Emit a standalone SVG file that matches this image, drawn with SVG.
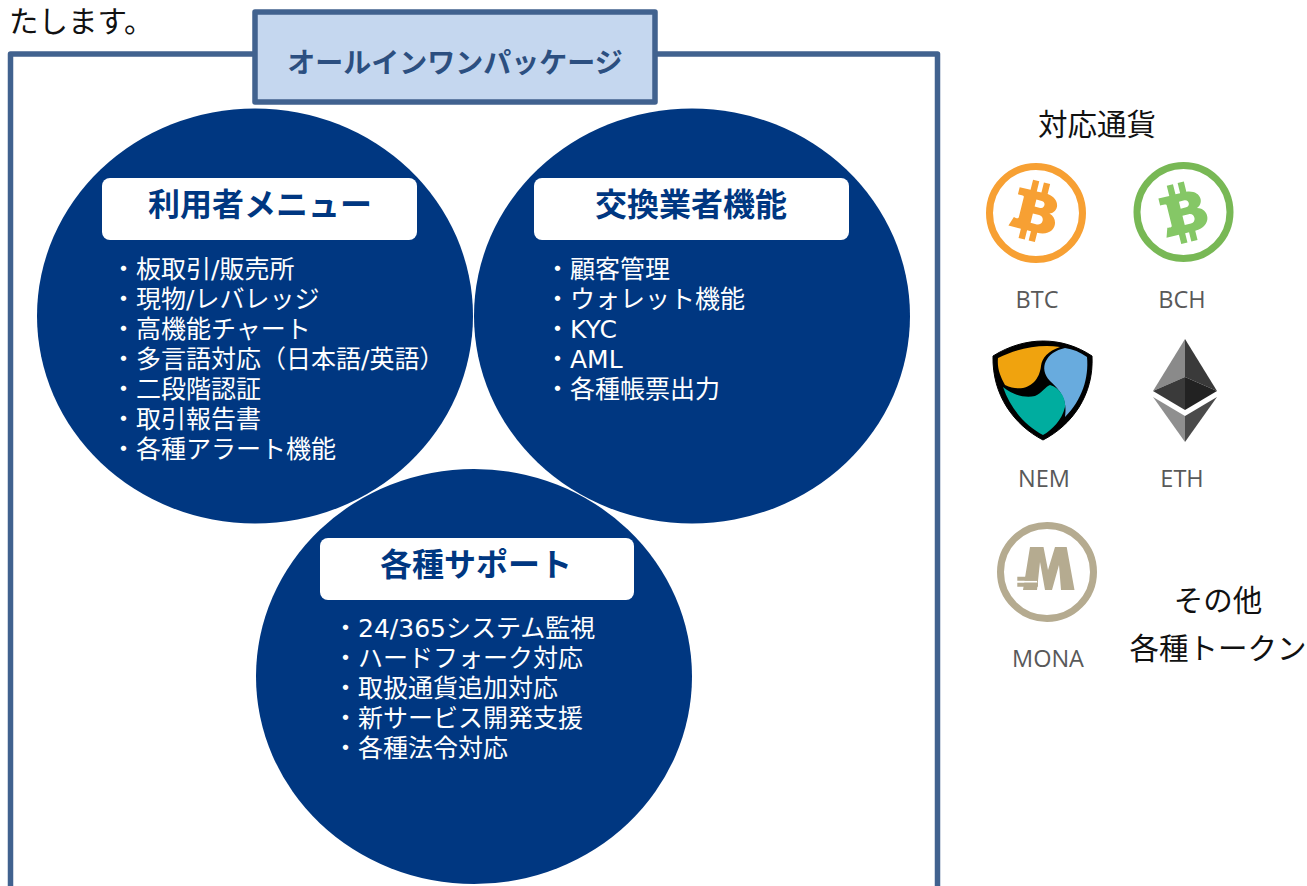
<svg xmlns="http://www.w3.org/2000/svg" width="1307" height="886" viewBox="0 0 1307 886">
<style>
text{font-family:"Noto Sans CJK JP","Noto Sans",sans-serif}
.circ{fill:#003781}
.head{fill:#fff}
.ht{font-size:32px;font-weight:700;fill:#003781;text-anchor:middle}
.li{font-size:25px;fill:#fff;font-family:"DejaVu Sans","Noto Sans CJK JP",sans-serif}
.blk{font-size:29.5px;fill:#111}
.cur{font-size:23.5px;fill:#595959;text-anchor:middle;font-family:"Open Sans",sans-serif}
</style>
<defs>
<path id="b" fill-rule="evenodd" d="M-27,-24H-13V-37H-5V-24H1V-37H9V-24C27,-22 28,-5 17,-1C32,3 31,26 8,26V38H0V26H-5V38H-13V26H-29L-25,14C-21,15 -19,15 -19,12V-13C-19,-15 -20,-15 -27,-15ZM-3,-14V-5H4C10,-5 10,-14 4,-14ZM-3,4V16H5C13,16 13,4 5,4Z"/>
</defs>
<rect width="1307" height="886" fill="#fff"/>
<text class="blk" x="9" y="32">たします。</text>
<g id="frame"><path d="M10.500,886V54H937.500V886" fill="none" stroke="#41628F" stroke-width="5.500" stroke-linejoin="round"/></g>
<g id="tab"><rect x="255" y="12" width="400" height="90" fill="#C5D7EF" stroke="#41628F" stroke-width="5.500" stroke-linejoin="round"/>
<text x="455" y="73" text-anchor="middle" font-size="28" font-weight="700" fill="#2C4F80">オールインワンパッケージ</text></g>
<g id="node-user"><ellipse class="circ" cx="255" cy="316" rx="218" ry="207.500"/><rect class="head" x="102" y="178" width="315" height="62" rx="8"/>
<text class="ht" x="260" y="216">利用者メニュー</text>
<text class="li" x="111" y="278">・板取引/販売所</text><text class="li" x="111" y="308">・現物/レバレッジ</text><text class="li" x="111" y="338">・高機能チャート</text><text class="li" x="111" y="368">・多言語対応（日本語/英語）</text><text class="li" x="111" y="398">・二段階認証</text><text class="li" x="111" y="428">・取引報告書</text><text class="li" x="111" y="458">・各種アラート機能</text></g>
<g id="node-exchange"><ellipse class="circ" cx="692" cy="316" rx="218" ry="207.500"/><rect class="head" x="534" y="178" width="315" height="62" rx="8"/>
<text class="ht" x="691" y="216">交換業者機能</text>
<text class="li" x="545" y="278">・顧客管理</text><text class="li" x="545" y="308">・ウォレット機能</text><text class="li" x="545" y="338">・KYC</text><text class="li" x="545" y="368">・AML</text><text class="li" x="545" y="398">・各種帳票出力</text></g>
<g id="node-support"><ellipse class="circ" cx="474" cy="676.500" rx="218" ry="207.500"/><rect class="head" x="320" y="538" width="314" height="62" rx="8"/>
<text class="ht" x="476" y="576">各種サポート</text>
<text class="li" x="333" y="637">・24/365システム監視</text><text class="li" x="333" y="667">・ハードフォーク対応</text><text class="li" x="333" y="697">・取扱通貨追加対応</text><text class="li" x="333" y="727">・新サービス開発支援</text><text class="li" x="333" y="757">・各種法令対応</text></g>
<text class="blk" x="1038" y="135">対応通貨</text>
<g id="btc"><circle cx="1036" cy="213" r="46.500" fill="#fff" stroke="#F7A033" stroke-width="7"/><use href="#b" fill="#F7A033" transform="translate(1036,211) rotate(14) scale(.8)"/><text class="cur" x="1037" y="308">BTC</text></g>
<g id="bch"><circle cx="1183.500" cy="212" r="46.500" fill="#fff" stroke="#78B855" stroke-width="7"/><use href="#b" fill="#85C766" transform="translate(1184,212) rotate(-14) scale(.8)"/><text class="cur" x="1182" y="308">BCH</text></g>
<g id="nem"><path d="M993,356C1025,336 1062,336 1092,356C1094,395 1072,425 1043,440C1014,425 992,395 993,356Z" fill="#000" stroke="#000" stroke-width="1"/>
<path d="M998,358C1018,348 1040,344 1060,347C1048,351 1042,358 1041,366C1039,384 1024,394 1005,385C1000,376 997,368 998,358Z" fill="#F0A30E"/>
<path d="M1065,348C1073,349 1080,352 1087,357C1089,378 1082,400 1065,417C1068,400 1060,390 1050,381C1038,368 1046,352 1065,348Z" fill="#68ABDE"/>
<path d="M1003,387C1014,396 1026,398 1035,396C1042,393 1046,386 1050,385C1060,388 1066,398 1065,407C1062,420 1052,430 1043,435C1026,426 1011,410 1003,387Z" fill="#00AD9F"/>
<text class="cur" x="1044" y="487">NEM</text></g>
<g id="eth"><polygon points="1185,339 1153,391 1185,377" fill="#8A8A8A"/><polygon points="1185,339 1217,391 1185,377" fill="#3A3A3A"/><polygon points="1153,391 1185,377 1185,410" fill="#3A3A3A"/><polygon points="1217,391 1185,377 1185,410" fill="#222"/><polygon points="1153,397 1185,416 1185,442" fill="#8F8F8F"/><polygon points="1217,397 1185,416 1185,442" fill="#4A4A4A"/><text class="cur" x="1182" y="487">ETH</text></g>
<g id="mona"><circle cx="1047" cy="572" r="46.500" fill="#fff" stroke="#B5AB90" stroke-width="7"/><path d="M1030,547H1043.500L1048,570L1055,547H1066.700L1074.500,590H1061L1059,565L1052,590H1045L1040,562L1037,590H1023Z" fill="#B5AB90"/><path d="M1021,581.700H1037" stroke="#fff" stroke-width="2" fill="none"/><path d="M1017.300,576.700H1038V580.700H1017.300ZM1017.300,582.700H1038V586.700H1017.300Z" fill="#B5AB90"/><text class="cur" x="1048" y="667">MONA</text></g>
<text class="blk" x="1218" y="611" text-anchor="middle">その他</text><text class="blk" x="1218" y="659" text-anchor="middle">各種トークン</text>
</svg>
